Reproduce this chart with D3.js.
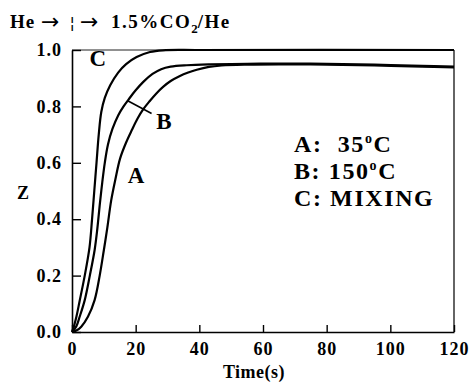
<!DOCTYPE html>
<html>
<head>
<meta charset="utf-8">
<script src="https://cdn.jsdelivr.net/npm/d3@7"></script>
<style>
  html, body { margin: 0; padding: 0; background: #fff; }
  svg text { font-family: "Liberation Serif", "Times New Roman", serif; font-weight: bold; fill: #000; }
</style>
</head>
<body>
<svg id="chart" width="469" height="384"></svg>
<script>
// ---- data (time in s, Z fraction) ----
const seriesNames = ["A", "B", "C"];
const legendLines = ["A:  35", "B: 150", "C: MIXING"];
const xTicks = [0, 20, 40, 60, 80, 100, 120];
const yTicks = [0.0, 0.2, 0.4, 0.6, 0.8, 1.0];

const curveA = [[0,0],[1.5,0.006],[2.9,0.019],[5,0.054],[7.1,0.113],[8.7,0.2],[10,0.29],[11.1,0.37],[12.3,0.466],[13.6,0.54],[15.1,0.615],[17,0.672],[18.8,0.716],[20.6,0.757],[22.4,0.79],[24.5,0.82],[26.5,0.846],[28.7,0.87],[31,0.89],[33.9,0.908],[36.5,0.92],[39.2,0.93],[43,0.94],[47,0.945],[55,0.948],[65,0.949],[80,0.948],[95,0.945],[110,0.941],[120,0.938]];
const curveB = [[0,0],[1.35,0.02],[2.4,0.054],[4,0.113],[5.6,0.2],[7.1,0.29],[7.9,0.36],[8.8,0.46],[9.5,0.53],[10.3,0.6],[11.3,0.665],[12.7,0.72],[14.5,0.768],[16.2,0.8],[18,0.828],[20,0.857],[22.4,0.887],[25.3,0.915],[28,0.932],[31,0.941],[36,0.946],[43.4,0.949],[55,0.951],[65,0.952],[80,0.951],[95,0.948],[110,0.944],[120,0.941]];
const curveC = [[0,0],[0.6,0.02],[1.4,0.055],[2.4,0.11],[4,0.2],[5.5,0.3],[6.3,0.4],[7,0.5],[7.7,0.6],[8.4,0.7],[9.2,0.78],[10.3,0.83],[12,0.875],[14.5,0.92],[17,0.95],[20.3,0.975],[24.5,0.993],[28.6,0.999],[40,1.0],[120,1.0]];
const labelPos = [[17.5,0.53],[26.5,0.72],[5.5,0.945]]; // curve label anchors (A, B, C)
const leader = [[17.5,0.82],[25,0.775]];

const svg = d3.select("#chart");
const x = d3.scaleLinear().domain([0, 120]).range([72, 454]);
const y = d3.scaleLinear().domain([0, 1]).range([332, 50]);

// frame (top and right)
svg.append("line").attr("x1", x(0)).attr("x2", x(120)).attr("y1", y(1)).attr("y2", y(1))
  .attr("stroke", "#222").attr("stroke-width", 1);
svg.append("line").attr("x1", x(120)).attr("x2", x(120)).attr("y1", y(1)).attr("y2", y(0))
  .attr("stroke", "#111").attr("stroke-width", 1.3);

// axes
const xAxis = d3.axisBottom(x).tickValues(xTicks).tickSizeInner(-7).tickSizeOuter(0).tickPadding(10)
  .tickFormat(d3.format("d"));
const gx = svg.append("g").attr("transform", `translate(0,${y(0)})`).call(xAxis);
const yAxis = d3.axisLeft(y).tickValues(yTicks).tickSizeInner(-9).tickSizeOuter(0).tickPadding(10)
  .tickFormat(d3.format(".1f"));
const gy = svg.append("g").attr("transform", `translate(${x(0)},0)`).call(yAxis);
[gx, gy].forEach(g => {
  g.select(".domain").attr("stroke", "#000").attr("stroke-width", 1.6);
  g.selectAll(".tick line").attr("stroke", "#000").attr("stroke-width", 1.4);
  g.selectAll(".tick text").attr("font-size", 18).attr("font-family", "Liberation Serif")
    .attr("font-weight", "bold").attr("fill", "#000").style("letter-spacing", "1px");
});

// curves
const line = d3.line().x(d => x(d[0])).y(d => y(d[1])).curve(d3.curveCatmullRom.alpha(0.5));
[curveA, curveB, curveC].forEach(c => {
  svg.append("path").datum(c).attr("d", line).attr("fill", "none")
    .attr("stroke", "#000").attr("stroke-width", 2.2).attr("stroke-linejoin", "round");
});
svg.append("path").datum(leader).attr("d", d3.line().x(d => x(d[0])).y(d => y(d[1])))
  .attr("stroke", "#000").attr("stroke-width", 1.6);

// curve labels
seriesNames.forEach((n, i) => {
  svg.append("text").attr("x", x(labelPos[i][0])).attr("y", y(labelPos[i][1]))
    .attr("font-size", 23).text(n);
});

// legend
legendLines.forEach((t, i) => {
  const tx = svg.append("text").attr("x", 294).attr("y", 152 + i * 27)
    .attr("font-size", 24).attr("xml:space", "preserve").style("white-space", "pre")
    .style("letter-spacing", "1.6px");
  tx.append("tspan").text(t);
  if (i < 2) {
    tx.append("tspan").attr("font-size", 14).attr("dy", -9).text("o");
    tx.append("tspan").attr("dy", 9).text("C");
  }
});

// title
const title = svg.append("text").attr("x", 10).attr("y", 28).attr("font-size", 19)
  .attr("xml:space", "preserve").style("white-space", "pre");
title.append("tspan").style("letter-spacing", "1px").text("He ");
title.append("tspan").attr("font-family", "DejaVu Sans").attr("font-weight", "normal").attr("font-size", 22).attr("dy", 1).text("\u2192");
title.append("tspan").attr("font-family", "DejaVu Sans").attr("font-weight", "normal").attr("font-size", 16).attr("dy", -1).text("  \u00A6 ");
title.append("tspan").attr("font-family", "DejaVu Sans").attr("font-weight", "normal").attr("font-size", 22).attr("dy", 1).text("\u2192");
title.append("tspan").attr("dy", -1).style("letter-spacing", "1.5px").text("  1.5%CO");
title.append("tspan").attr("font-size", 13).attr("dy", 5).text("2");
title.append("tspan").attr("dy", -5).style("letter-spacing", "1.5px").text("/He");

// axis titles
svg.append("text").attr("x", 23).attr("y", 199).attr("text-anchor", "middle").attr("font-size", 18).text("Z");
svg.append("text").attr("x", 254).attr("y", 378).attr("text-anchor", "middle").attr("font-size", 18)
  .style("letter-spacing", "0.5px").text("Time(s)");
</script>
</body>
</html>
